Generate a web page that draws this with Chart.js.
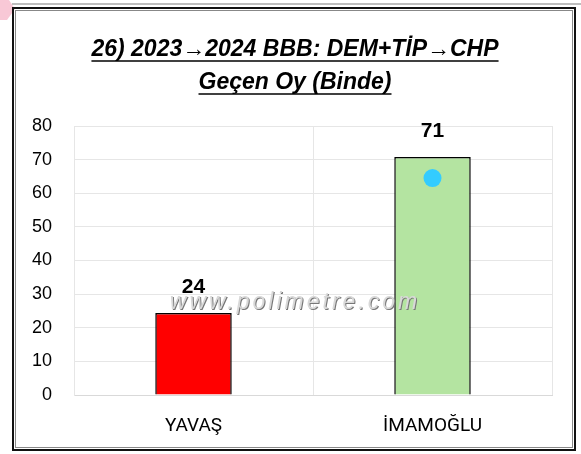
<!DOCTYPE html>
<html>
<head>
<meta charset="utf-8">
<script src="https://cdn.jsdelivr.net/npm/chart.js@4/dist/chart.umd.min.js"></script>
<style>
  html, body { margin: 0; padding: 0; background: #fff; }
  #wrap { width: 581px; height: 454px; }
</style>
</head>
<body>
<div id="wrap"><canvas id="chart" width="581" height="454"></canvas></div>
<script>
const categories = ['YAVAŞ', 'İMAMOĞLU'];
const voteValues = [24.4, 70.8];
const dotValues = [null, 64.5];
const barColors = ['#FF0000', '#B4E4A1'];
const titleLines = ['26) 2023→2024 BBB: DEM+TİP→CHP', 'Geçen Oy (Binde)'];
const yMin = 0, yMax = 80, yStep = 10;
const watermark = 'www.polimetre.com';

const framePlugin = {
  id: 'frame',
  beforeDraw(c) {
    const ctx = c.ctx;
    ctx.save();
    ctx.fillStyle = '#fff';
    ctx.fillRect(0, 0, c.width, c.height);
    // pink corner bit + top gray line
    ctx.fillStyle = '#f8c8d6';
    ctx.beginPath();
    ctx.moveTo(0, 0); ctx.lineTo(9, 0); ctx.lineTo(15, 9); ctx.lineTo(7, 20); ctx.lineTo(0, 20);
    ctx.closePath(); ctx.fill();
    ctx.fillStyle = '#bdbdbd';
    ctx.fillRect(12, 3, 569, 2);
    // frame
    ctx.strokeStyle = '#111';
    ctx.lineWidth = 2;
    ctx.strokeRect(13, 8, 562, 442);
    ctx.strokeStyle = '#888';
    ctx.lineWidth = 1;
    ctx.strokeRect(15.5, 10.5, 557, 437);
    ctx.restore();
  },
  afterDraw(c) {
    const ctx = c.ctx;
    ctx.save();
    // title with underline
    ctx.fillStyle = '#000';
    ctx.strokeStyle = '#000';
    ctx.font = 'italic bold 23px "Liberation Sans", Arial, sans-serif';
    ctx.textAlign = 'center';
    ctx.textBaseline = 'alphabetic';
    const cx = 295;
    const baselines = [56, 89];
    titleLines.forEach((t, i) => {
      ctx.fillText(t, cx, baselines[i]);
      const w = ctx.measureText(t).width;
      ctx.lineWidth = 1.5;
      ctx.beginPath();
      ctx.moveTo(cx - w / 2, baselines[i] + 5);
      ctx.lineTo(cx + w / 2, baselines[i] + 5);
      ctx.stroke();
    });
    // value labels
    const meta = c.getDatasetMeta(1);
    ctx.font = 'bold 21px "Liberation Sans", Arial, sans-serif';
    ctx.textBaseline = 'middle';
    meta.data.forEach((bar, i) => {
      ctx.fillText(String(Math.round(voteValues[i])), bar.x, bar.y - 26);
    });
    // watermark
    ctx.font = 'italic 23px "Liberation Sans", Arial, sans-serif';
    ctx.letterSpacing = '3px';
    ctx.textAlign = 'center';
    ctx.fillStyle = '#777';
    ctx.fillText(watermark, 296, 304);
    ctx.fillStyle = '#d8d8d8';
    ctx.fillText(watermark, 295, 303);
    ctx.restore();
  }
};

new Chart(document.getElementById('chart'), {
  data: {
    labels: categories,
    datasets: [
      {
        type: 'line',
        data: dotValues,
        showLine: false,
        pointRadius: 9,
        pointHoverRadius: 9,
        pointBackgroundColor: '#33CCFF',
        pointBorderWidth: 0,
        order: 0
      },
      {
        type: 'bar',
        data: voteValues,
        backgroundColor: barColors,
        borderColor: '#000',
        borderWidth: 1.5,
        categoryPercentage: 1,
        barPercentage: 0.32,
        order: 1
      }
    ]
  },
  options: {
    responsive: false,
    animation: false,
    layout: { padding: { left: 30, right: 29, top: 126, bottom: 0 } },
    plugins: { legend: { display: false }, tooltip: { enabled: false } },
    scales: {
      x: {
        offset: true,
        afterFit: s => { s.height = 59; },
        grid: { color: '#e6e6e6', drawTicks: false, offset: true },
        border: { color: '#d9d9d9' },
        ticks: { color: '#000', padding: 20, font: { family: 'Roboto', size: 19 } }
      },
      y: {
        min: yMin,
        max: yMax,
        afterFit: s => { s.width = 44; },
        grid: { color: '#e6e6e6', drawTicks: false },
        border: { color: '#e6e6e6' },
        ticks: { stepSize: yStep, color: '#000', padding: 22, font: { family: '"Liberation Sans"', size: 18 } }
      }
    }
  },
  plugins: [framePlugin]
});
</script>
</body>
</html>
